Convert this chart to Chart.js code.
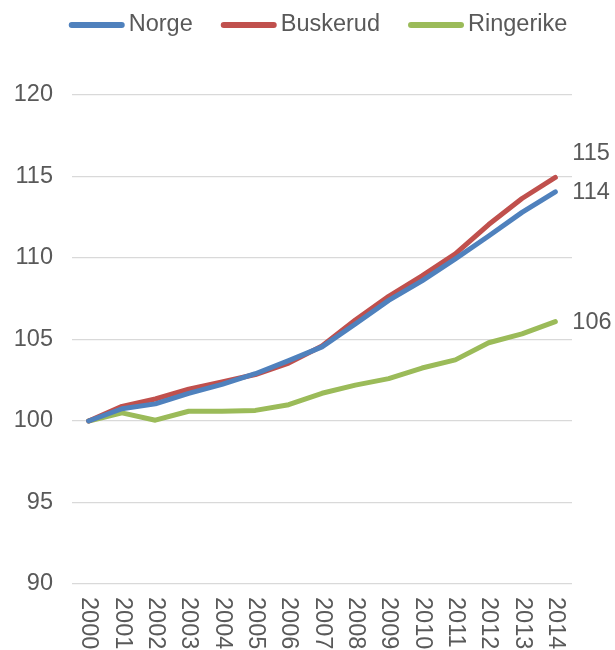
<!DOCTYPE html>
<html><head><meta charset="utf-8">
<script src="https://cdn.jsdelivr.net/npm/chart.js@4/dist/chart.umd.min.js"></script>
<style>html,body{margin:0;padding:0;background:#fff}#wrap{width:615px;height:650px;position:relative}</style>
</head><body><div id="wrap"><canvas id="c" width="615" height="650"></canvas></div>
<script>
const years = ['2000','2001','2002','2003','2004','2005','2006','2007','2008','2009','2010','2011','2012','2013','2014'];
const norge = [100,100.75,101.05,101.7,102.25,102.9,103.7,104.55,105.95,107.4,108.6,109.95,111.35,112.8,114.06];
const buskerud = [100,100.9,101.35,101.95,102.4,102.85,103.55,104.6,106.2,107.65,108.9,110.25,112.05,113.65,114.94];
const ringerike = [100,100.5,100.05,100.6,100.6,100.65,101.0,101.7,102.2,102.6,103.25,103.75,104.8,105.35,106.1];
const seriesNames = ['Norge','Buskerud','Ringerike'];
const yMin = 90, yMax = 120, yStep = 5;

const FONT_FAMILY = '"Liberation Sans", Arial, sans-serif';
const FONT_SIZE = 23.5;
const TEXT = '#595959';
const colors = ['#4F81BD','#C0504D','#9BBB59'];

const deco = {
  id: 'deco',
  afterDraw(chart) {
    const ctx = chart.ctx, xs = chart.scales.x, ys = chart.scales.y, area = chart.chartArea;
    ctx.save();
    ctx.font = FONT_SIZE + 'px ' + FONT_FAMILY;
    ctx.fillStyle = TEXT;
    // rotated x labels (clockwise)
    years.forEach((lab, i) => {
      const px = xs.getPixelForValue(i);
      ctx.save();
      ctx.translate(px, area.bottom + 13);
      ctx.rotate(Math.PI / 2);
      ctx.textAlign = 'left';
      ctx.textBaseline = 'middle';
      ctx.fillText(lab, 0, 0);
      ctx.restore();
    });
    // end labels
    const last = years.length - 1;
    const labs = chart.data.datasets.map(ds => ({
      text: String(Math.round(ds.data[last])),
      y: ys.getPixelForValue(ds.data[last]) + 1,
      x: xs.getPixelForValue(last) + 17
    }));
    labs.sort((a, b) => b.y - a.y);
    const minGap = 39;
    for (let i = 1; i < labs.length; i++) {
      if (labs[i - 1].y - labs[i].y < minGap) labs[i].y = labs[i - 1].y - minGap;
    }
    ctx.textAlign = 'left';
    ctx.textBaseline = 'middle';
    labs.forEach(l => ctx.fillText(l.text, l.x, l.y));
    // legend
    const lineW = 56, gap = 4, itemGap = 28, ly = 25;
    const widths = chart.data.datasets.map(ds => lineW + gap + ctx.measureText(ds.label).width);
    const total = widths.reduce((a, b) => a + b, 0) + itemGap * (widths.length - 1);
    let lx = 318 - total / 2;
    chart.data.datasets.forEach((ds, i) => {
      ctx.strokeStyle = ds.borderColor;
      ctx.lineWidth = 6;
      ctx.lineCap = 'round';
      ctx.beginPath();
      ctx.moveTo(lx + 3, ly);
      ctx.lineTo(lx + lineW - 3, ly);
      ctx.stroke();
      ctx.fillStyle = TEXT;
      ctx.textAlign = 'left';
      ctx.textBaseline = 'middle';
      ctx.fillText(ds.label, lx + lineW + gap, ly);
      lx += widths[i] + itemGap;
    });
    ctx.restore();
  }
};

const mk = (label, data, color) => ({
  label, data, borderColor: color, backgroundColor: color,
  borderWidth: 5, pointRadius: 0, tension: 0, fill: false,
  borderCapStyle: 'round', borderJoinStyle: 'round'
});

new Chart(document.getElementById('c'), {
  type: 'line',
  data: {
    labels: years,
    datasets: [
      mk(seriesNames[0], norge, colors[0]),
      mk(seriesNames[1], buskerud, colors[1]),
      mk(seriesNames[2], ringerike, colors[2])
    ]
  },
  options: {
    responsive: false,
    devicePixelRatio: 1,
    animation: false,
    layout: { padding: { top: 95, right: 43, bottom: 66, left: 0 } },
    plugins: { legend: { display: false }, tooltip: { enabled: false } },
    scales: {
      x: {
        type: 'category', offset: true,
        grid: { display: false, drawTicks: false },
        border: { display: false },
        ticks: { display: false }
      },
      y: {
        min: yMin, max: yMax,
        afterFit(s) { s.width = 72; },
        ticks: { stepSize: yStep, padding: 19, color: TEXT, font: { family: FONT_FAMILY, size: FONT_SIZE } },
        grid: { color: '#D9D9D9', lineWidth: 1.3, drawTicks: false },
        border: { display: false }
      }
    }
  },
  plugins: [deco]
});
</script></body></html>
